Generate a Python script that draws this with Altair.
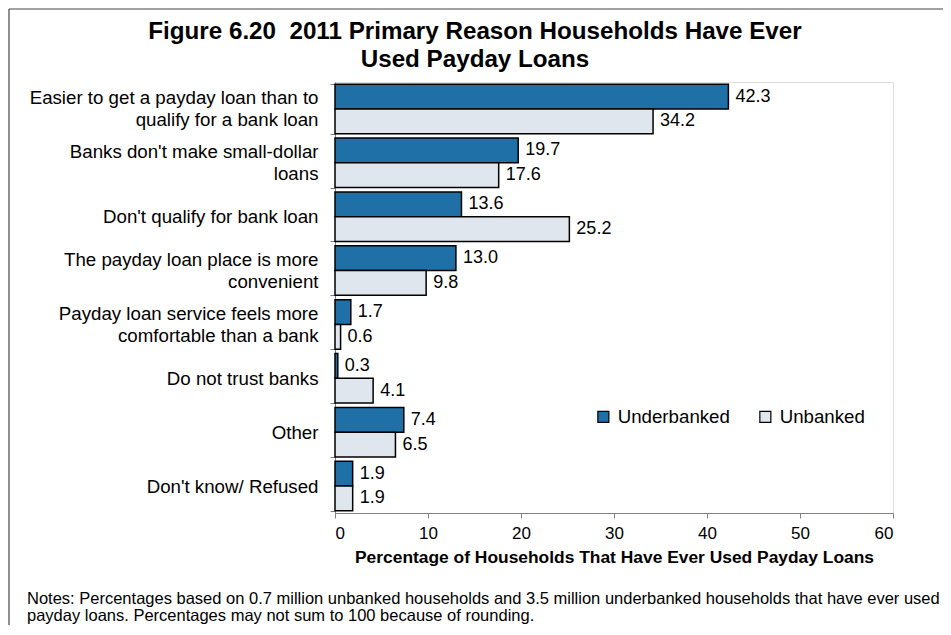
import altair as alt
import pandas as pd

categories = [
    "Easier to get a payday loan than to|qualify for a bank loan",
    "Banks don't make small-dollar|loans",
    "Don't qualify for bank loan",
    "The payday loan place is more|convenient",
    "Payday loan service feels more|comfortable than a bank",
    "Do not trust banks",
    "Other",
    "Don't know/ Refused",
]
series = ["Underbanked", "Unbanked"]
underbanked = [42.3, 19.7, 13.6, 13.0, 1.7, 0.3, 7.4, 1.9]
unbanked = [34.2, 17.6, 25.2, 9.8, 0.6, 4.1, 6.5, 1.9]
x_ticks = [0, 10, 20, 30, 40, 50, 60]
colors = ["#2070a8", "#e0e6ee"]

title_text = "Figure 6.20 \u00a02011 Primary Reason Households Have Ever\nUsed Payday Loans"
x_title = "Percentage of Households That Have Ever Used Payday Loans"
notes = ("Notes: Percentages based on 0.7 million unbanked households and 3.5 million underbanked households that have ever used\n"
         "payday loans. Percentages may not sum to 100 because of rounding.")

rows = []
for c, u, b in zip(categories, underbanked, unbanked):
    rows.append({"category": c, "series": series[0], "value": u})
    rows.append({"category": c, "series": series[1], "value": b})
df = pd.DataFrame(rows)

FONT = "Liberation Sans"
PAD_L, PAD_T, W, H = 327, 74, 558, 431

y_enc = alt.Y(
    "category:N", sort=categories,
    scale=alt.Scale(paddingInner=0.08, paddingOuter=0.04),
    axis=alt.Axis(
        title=None, labelExpr="split(datum.label, '|')", labelAlign="right",
        labelFontSize=18.7, labelLineHeight=22, labelFont=FONT, labelColor="black",
        labelPadding=12, tickBand="extent", tickSize=5, tickColor="#808080",
        domainColor="#808080", labelLimit=400,
        labelOffset={"expr": "indexof(datum.label, '|') >= 0 ? -11 : 0"},
    ),
)
yoff = alt.YOffset("series:N", sort=series, scale=alt.Scale(paddingInner=0, paddingOuter=0))
x_enc = alt.X(
    "value:Q", scale=alt.Scale(domain=[0, 60], nice=False),
    axis=alt.Axis(
        values=x_ticks, title=x_title, titleFont=FONT, titleFontSize=17.4,
        titleFontWeight="bold", titleColor="black", titlePadding=7,
        labelFont=FONT, labelFontSize=17, labelColor="black", labelPadding=7,
        tickSize=5, tickColor="#808080", domainColor="#808080", grid=False,
    ),
)

base = alt.Chart(df)
bars = base.mark_bar(stroke="black", strokeWidth=1.5).encode(
    y=y_enc, yOffset=yoff, x=x_enc,
    fill=alt.Fill(
        "series:N", sort=series, scale=alt.Scale(domain=series, range=colors),
        legend=alt.Legend(
            title=None, orient="none", legendX=259, legendY=325, direction="horizontal",
            symbolType="square", symbolSize=121, symbolStrokeColor="black",
            symbolStrokeWidth=1.2, symbolOpacity=1, labelFont=FONT, labelFontSize=18.7,
            labelColor="black", columnPadding=26, labelOffset=5,
        ),
    ),
)
labels = base.mark_text(align="left", baseline="middle", dx=7, fontSize=18, font=FONT, color="black").encode(
    y=alt.Y("category:N", sort=categories), yOffset=yoff, x=alt.X("value:Q"),
    text=alt.Text("value:Q", format=".1f"),
)

one = pd.DataFrame({"a": [0]})
frame_left = alt.Chart(one).mark_rule(color="#444444", strokeWidth=1.2).encode(
    x=alt.value(-PAD_L + 1), y=alt.value(-PAD_T + 1), y2=alt.value(545)
)
frame_top = alt.Chart(one).mark_rule(color="#444444", strokeWidth=1.2).encode(
    x=alt.value(-PAD_L + 1), x2=alt.value(620), y=alt.value(-PAD_T + 1)
)
title_layer = alt.Chart(pd.DataFrame({"t": [title_text]})).mark_text(
    align="center", baseline="middle", fontSize=24.2, font=FONT, fontWeight="bold",
    color="black", lineBreak="\n", lineHeight=28
).encode(x=alt.value(140), y=alt.value(-50), text="t:N")
notes_layer = alt.Chart(pd.DataFrame({"t": [notes]})).mark_text(
    align="left", baseline="middle", fontSize=16.5, font=FONT, color="black", lineBreak="\n", lineHeight=16.5
).encode(x=alt.value(-308), y=alt.value(517), text="t:N")

chart = alt.layer(frame_left, frame_top, title_layer, bars, labels, notes_layer).properties(
    width=W, height=H,
    autosize=alt.AutoSizeParams(type="none"),
    padding={"left": PAD_L, "top": PAD_T, "right": 50, "bottom": 112},
).configure_view(stroke=None).configure(background="white")

chart.save("out.html", embed_options={"renderer": "svg", "actions": False})
